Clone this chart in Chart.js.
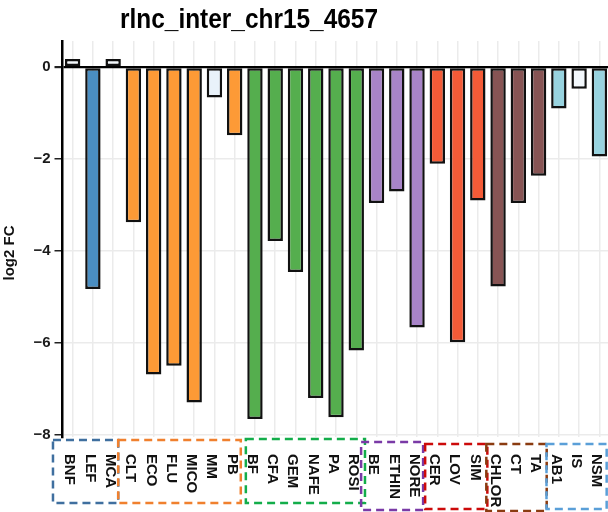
<!DOCTYPE html>
<html>
<head>
<meta charset="utf-8">
<script src="https://cdn.jsdelivr.net/npm/chart.js@4/dist/chart.umd.min.js"></script>
<style>
  html, body { margin: 0; padding: 0; background: #fff; overflow: hidden; }
  #wrap { width: 610px; height: 512px; }
</style>
</head>
<body>
<div id="wrap"><canvas id="c" width="610" height="512"></canvas></div>
<script>
// ---- data ----
const categories = ['BNF', 'LEF', 'MCA', 'CLT', 'ECO', 'FLU', 'MICO', 'MM', 'PB',
  'BF', 'CFA', 'GEM', 'NAFE', 'PA', 'ROSI', 'BE', 'ETHIN', 'NORE',
  'CER', 'LOV', 'SIM', 'CHLOR', 'CT', 'TA', 'AB1', 'IS', 'NSM'];
const log2fc = [0.18, -4.82, 0.18, -3.37, -6.68, -6.49, -7.29, -0.66, -1.48,
  -7.65, -3.78, -4.45, -7.19, -7.61, -6.16, -2.95, -2.70, -5.66,
  -2.10, -5.98, -2.90, -4.77, -2.95, -2.36, -0.90, -0.47, -1.94];
const groupOf = [1, 1, 1, 2, 2, 2, 2, 2, 2, 3, 3, 3, 3, 3, 3, 4, 4, 4,
  5, 5, 5, 6, 6, 6, 7, 7, 7];
const yTicks = [0, -2, -4, -6, -8];
const chartTitle = 'rlnc_inter_chr15_4657';
const yTitle = 'log2 FC';

// ---- styles ----
const groupFill = { 1: '#4a8ec2', 2: '#fd9a36', 3: '#55ae4e', 4: '#a884c8',
  5: '#f45b37', 6: '#875454', 7: '#98d3df' };
const paleFill = { BNF: '#f3f8fc', MCA: '#f3f8fc', MM: '#e9f2fa', IS: '#f3f8fc' };
const boxStyle = {
  1: { color: '#3f6f9f', padL: 0.97, padR: 0.25, top: 3, bottom: 66 },
  2: { color: '#f0802e', padL: 0.75, padR: 0.30, top: 3, bottom: 66 },
  3: { color: '#13ad4a', padL: 0.45, padR: 0.43, top: 2, bottom: 66 },
  4: { color: '#7a3aa6', padL: 0.76, padR: 0.30, top: 5, bottom: 73 },
  5: { color: '#cc0a0a', padL: 0.60, padR: 0.47, top: 7, bottom: 72 },
  6: { color: '#8a3b10', padL: 0.58, padR: 0.40, top: 7, bottom: 74 },
  7: { color: '#5a9fd8', padL: 0.61, padR: 0.36, top: 7, bottom: 72 }
};
const FONT = '"Liberation Sans", Arial, sans-serif';

const overlay = {
  id: 'overlay',
  afterDraw(chart) {
    const { ctx, chartArea: area } = chart;
    const xs = chart.scales.x;
    const step = xs.getPixelForValue(1) - xs.getPixelForValue(0);

    // title, narrowed to a condensed look
    ctx.save();
    ctx.font = 'bold 27px ' + FONT;
    ctx.fillStyle = '#000';
    ctx.textAlign = 'center';
    ctx.textBaseline = 'alphabetic';
    const w = ctx.measureText(chartTitle).width;
    const sx = 258 / w;
    ctx.translate(249, 28);
    ctx.scale(sx, 1);
    ctx.fillText(chartTitle, 0, 0);
    ctx.restore();

    // y axis title
    ctx.save();
    ctx.font = 'bold 15px ' + FONT;
    ctx.fillStyle = '#111';
    ctx.textAlign = 'center';
    ctx.textBaseline = 'middle';
    ctx.translate(10, 253);
    ctx.rotate(-Math.PI / 2);
    ctx.fillText(yTitle, 0, 0);
    ctx.restore();

    // category labels, reading downward
    ctx.save();
    ctx.font = 'bold 15px ' + FONT;
    ctx.fillStyle = '#111';
    ctx.textAlign = 'left';
    ctx.textBaseline = 'middle';
    categories.forEach((lab, i) => {
      const x = xs.getPixelForValue(i) - 3;
      ctx.save();
      ctx.translate(x, area.bottom + 17);
      ctx.rotate(Math.PI / 2);
      ctx.fillText(lab, 0, 0);
      ctx.restore();
    });
    ctx.restore();

    // dashed boxes around each group of labels
    ctx.save();
    ctx.lineWidth = 2.5;
    ctx.setLineDash([8, 5]);
    Object.keys(boxStyle).forEach(k => {
      const g = Number(k);
      const idx = groupOf.map((v, i) => v === g ? i : -1).filter(i => i >= 0);
      const st = boxStyle[k];
      const x0 = xs.getPixelForValue(idx[0]) - st.padL * step;
      const x1 = xs.getPixelForValue(idx[idx.length - 1]) + st.padR * step;
      const y0 = area.bottom + st.top;
      const y1 = area.bottom + st.bottom;
      ctx.strokeStyle = st.color;
      ctx.strokeRect(x0, y0, x1 - x0, y1 - y0);
    });
    ctx.restore();
  }
};

new Chart(document.getElementById('c'), {
  type: 'bar',
  data: {
    labels: categories,
    datasets: [{
      data: log2fc,
      backgroundColor: categories.map((c, i) => paleFill[c] || groupFill[groupOf[i]]),
      borderColor: '#111',
      borderWidth: 2.5,
      borderSkipped: false,
      barPercentage: 0.76,
      categoryPercentage: 1
    }]
  },
  options: {
    responsive: false,
    animation: false,
    devicePixelRatio: 1,
    layout: { autoPadding: false, padding: { top: 41, right: 0.5, left: 0, bottom: 0 } },
    plugins: { legend: { display: false }, tooltip: { enabled: false }, title: { display: false } },
    scales: {
      x: {
        type: 'category',
        offset: true,
        grid: { offset: false, color: '#ebebeb', lineWidth: 1.5, drawTicks: false },
        border: { display: false },
        ticks: { display: false },
        afterFit: s => { s.height = 75; }
      },
      y: {
        min: -8.04,
        max: 0.57,
        afterBuildTicks: s => { s.ticks = yTicks.map(v => ({ value: v })); },
        afterFit: s => { s.width = 62.5; },
        grid: {
          color: c => (c.tick && c.tick.value === 0) ? '#000' : '#ebebeb',
          lineWidth: c => (c.tick && c.tick.value === 0) ? 2.2 : 1.5,
          tickLength: 8,
          tickColor: '#222'
        },
        border: { display: true, color: '#000', width: 2.5 },
        ticks: {
          padding: 4,
          color: '#1a1a1a',
          font: { family: FONT, size: 15, weight: 'bold' },
          callback: v => v < 0 ? '\u2212' + Math.abs(v) : String(v)
        }
      }
    }
  },
  plugins: [overlay]
});
</script>
</body>
</html>
